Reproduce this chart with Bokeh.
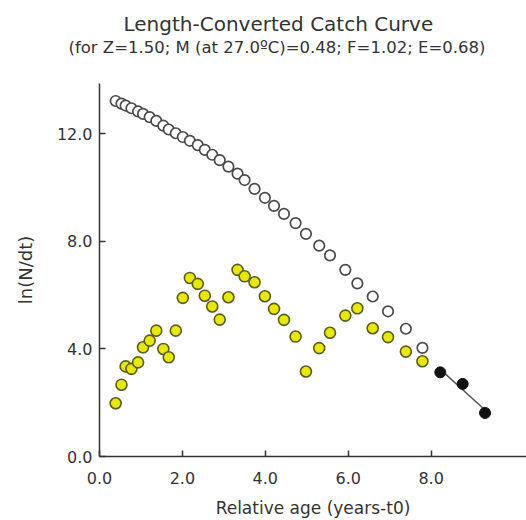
import numpy as np
from bokeh.plotting import figure
from bokeh.models import Title, FixedTicker, PrintfTickFormatter, Range1d, ColumnDataSource
from bokeh.embed import file_html
from bokeh.resources import INLINE

# Relative age (years - t0) of the length classes
ages = [0.39, 0.53, 0.63, 0.77, 0.93, 1.05, 1.21, 1.37, 1.54, 1.67, 1.84, 2.01,
        2.18, 2.37, 2.54, 2.72, 2.90, 3.11, 3.33, 3.50, 3.74, 3.99, 4.21, 4.45,
        4.73, 4.98, 5.30, 5.56, 5.93, 6.22, 6.59, 6.96, 7.39, 7.79]
# ln(N/dt) of the observed points (yellow, not used in regression)
ln_obs = [1.98, 2.67, 3.35, 3.26, 3.50, 4.06, 4.31, 4.68, 4.00, 3.69, 4.68, 5.90,
          6.64, 6.42, 5.98, 5.58, 5.09, 5.92, 6.94, 6.70, 6.48, 5.96, 5.49, 5.08,
          4.46, 3.16, 4.03, 4.60, 5.24, 5.51, 4.77, 4.44, 3.90, 3.54]
# ln(N/dt) corrected (open circles)
ln_corr = [13.22, 13.12, 13.05, 12.95, 12.83, 12.74, 12.62, 12.48, 12.30, 12.16,
           12.02, 11.88, 11.74, 11.58, 11.40, 11.22, 11.02, 10.78, 10.52, 10.28,
           9.95, 9.62, 9.32, 9.02, 8.68, 8.28, 7.84, 7.48, 6.94, 6.44, 5.95, 5.40,
           4.75, 4.04]
# Points used in the regression (black)
ages_reg = [8.22, 8.76, 9.30]
ln_reg = [3.13, 2.70, 1.62]

x_ticks = [0, 2, 4, 6, 8]
y_ticks = [0, 4, 8, 12]

title_text = "Length-Converted Catch Curve"
subtitle_text = "(for Z=1.50; M (at 27.0\u00baC)=0.48; F=1.02; E=0.68)"
x_label = "Relative age (years-t0)"
y_label = "ln(N/dt)"

FONT = "DejaVu Sans"
TXT = "#333333"

p = figure(width=526, height=520, output_backend="svg", toolbar_location=None,
           x_range=Range1d(0, 10.3), y_range=Range1d(0, 13.87),
           min_border_left=99, min_border_right=0, min_border_bottom=64,
           min_border_top=83)

p.title.text = title_text
p.title.align = "left"
p.title.offset = 24
p.title.text_font = FONT
p.title.text_font_size = "20px"
p.title.text_font_style = "normal"
p.title.text_color = TXT
p.title.standoff = -54
p.add_layout(Title(text=subtitle_text, align="left", offset=-31, text_font=FONT,
                   text_font_size="16.5px", text_font_style="normal",
                   text_color=TXT, standoff=54), "above")

p.grid.visible = False
p.outline_line_color = None
p.background_fill_color = "white"
p.border_fill_color = "white"

for ax in (p.xaxis[0], p.yaxis[0]):
    ax.axis_line_color = "#333333"
    ax.axis_line_width = 1.5
    ax.major_tick_line_color = "#333333"
    ax.major_tick_line_width = 1.5
    ax.major_tick_in = 6
    ax.major_tick_out = 0
    ax.minor_tick_line_color = None
    ax.major_label_text_font = FONT
    ax.major_label_text_font_size = "16px"
    ax.major_label_text_color = TXT
    ax.axis_label_text_font = FONT
    ax.axis_label_text_font_style = "normal"
    ax.axis_label_text_color = TXT
    ax.formatter = PrintfTickFormatter(format="%.1f")

p.xaxis[0].ticker = FixedTicker(ticks=x_ticks)
p.yaxis[0].ticker = FixedTicker(ticks=y_ticks)
p.xaxis[0].axis_label = x_label
p.yaxis[0].axis_label = y_label
p.xaxis[0].axis_label_text_font_size = "17px"
p.yaxis[0].axis_label_text_font_size = "18px"
p.xaxis[0].major_label_standoff = 15
p.xaxis[0].axis_label_standoff = 11
p.yaxis[0].major_label_standoff = 7
p.yaxis[0].axis_label_standoff = 18

src_c = ColumnDataSource(dict(x=ages, y=ln_corr))
src_o = ColumnDataSource(dict(x=ages, y=ln_obs))
src_r = ColumnDataSource(dict(x=ages_reg, y=ln_reg))

p.scatter("x", "y", source=src_c, size=10.5, fill_color="white",
          line_color="#4a4a4a", line_width=1.7)
p.scatter("x", "y", source=src_o, size=11, fill_color="#e8e800",
          line_color="#5c5c20", line_width=1.6)

slope, intercept = np.polyfit(ages_reg, ln_reg, 1)
xr = [min(ages_reg), max(ages_reg)]
p.line(xr, [slope * v + intercept for v in xr], line_color="#555555", line_width=1.5)
p.scatter("x", "y", source=src_r, size=11, fill_color="#111111",
          line_color="#111111", line_width=1)

open("out.html", "w").write(file_html(p, INLINE))
